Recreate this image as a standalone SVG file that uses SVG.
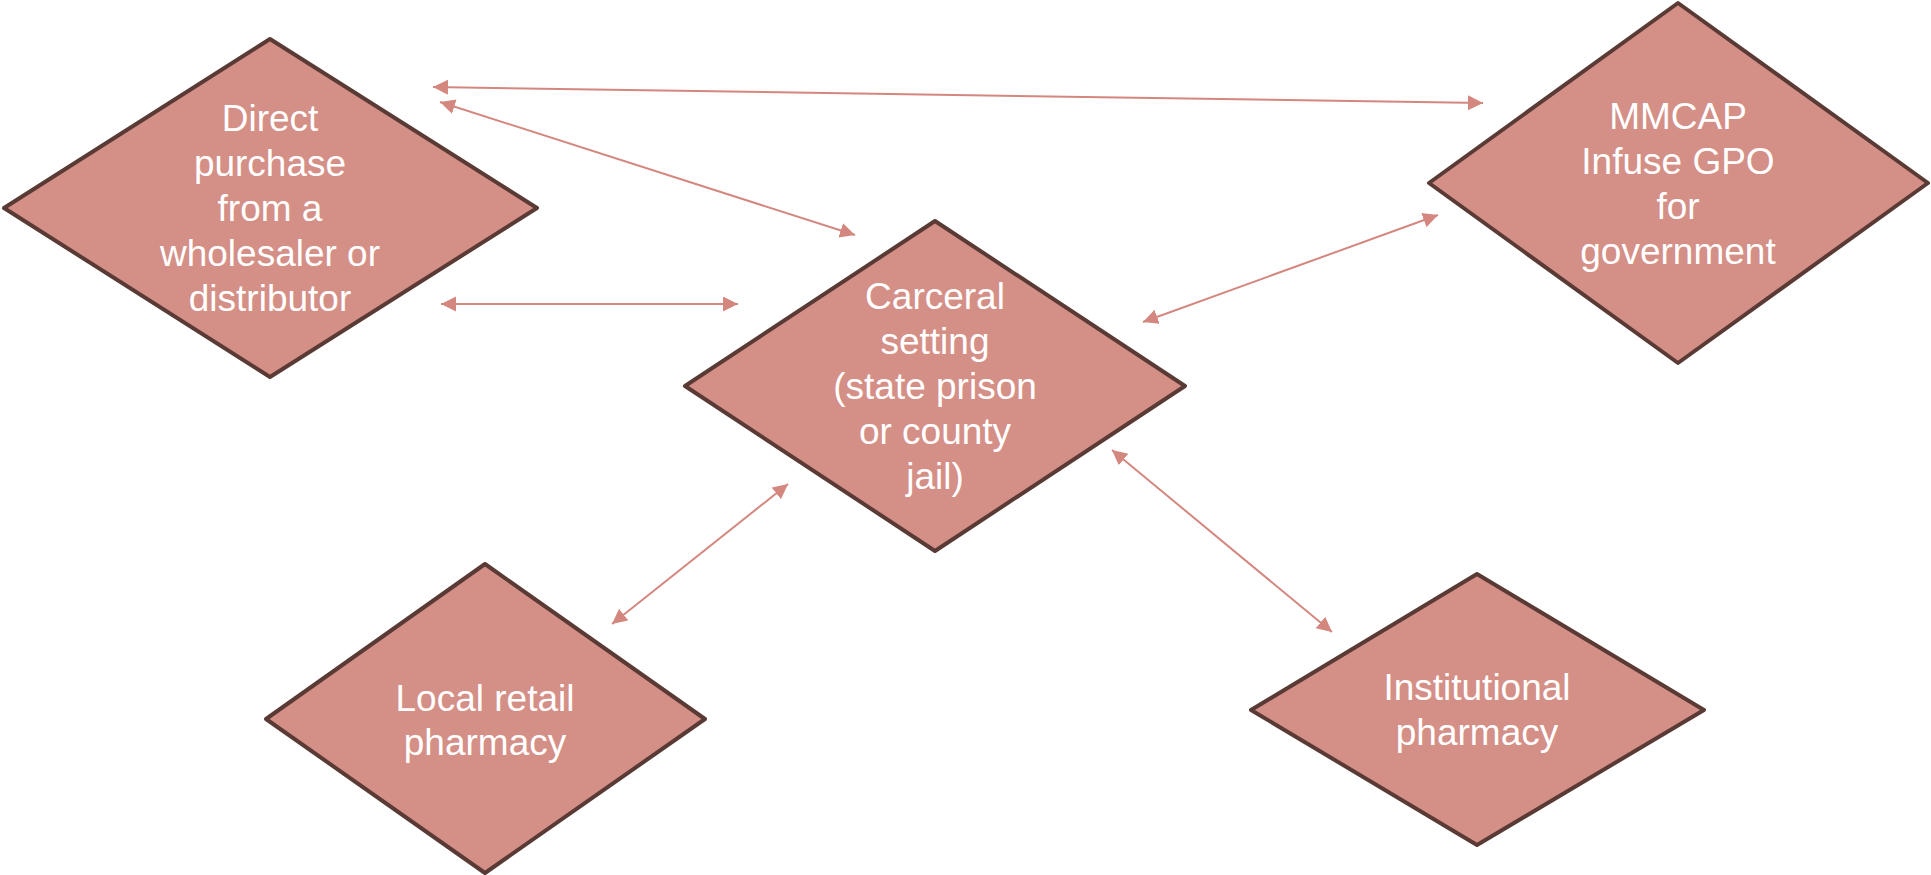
<svg xmlns="http://www.w3.org/2000/svg" width="1931" height="875" viewBox="0 0 1931 875">
<style>
.node{fill:#D48F87;stroke:#5A3A35;stroke-width:4;stroke-linejoin:round}
.lbl{fill:#FFFFFF;font-family:"Liberation Sans",Arial,sans-serif;font-size:37px;text-anchor:middle}
.conn{stroke:#D3877F;stroke-width:2;fill:none;marker-start:url(#ah);marker-end:url(#ah)}
</style>
<defs>
<marker id="ah" markerUnits="userSpaceOnUse" markerWidth="16" markerHeight="16" refX="15" refY="7.5" orient="auto-start-reverse" viewBox="0 0 16 16">
<path d="M0,0 L15,7.5 L0,15 z" fill="#D3877F"/>
</marker>
</defs>
<rect width="1931" height="875" fill="#FFFFFF"/>
<g id="connectors">
<line class="conn" x1="433" y1="87" x2="1483" y2="103"/>
<line class="conn" x1="440" y1="102" x2="855" y2="235"/>
<line class="conn" x1="441" y1="304" x2="738" y2="304"/>
<line class="conn" x1="1143" y1="322" x2="1438" y2="215"/>
<line class="conn" x1="612" y1="624" x2="788" y2="484"/>
<line class="conn" x1="1112" y1="450" x2="1332" y2="632"/>
</g>
<g id="node-direct">
<polygon class="node" points="270,39 537,208 270,377 4,208"/>
<text class="lbl" x="270" y="131">Direct</text>
<text class="lbl" x="270" y="176">purchase</text>
<text class="lbl" x="270" y="221">from a</text>
<text class="lbl" x="270" y="266">wholesaler or</text>
<text class="lbl" x="270" y="311">distributor</text>
</g>
<g id="node-carceral">
<polygon class="node" points="935,221 1185,386 935,551 685,386"/>
<text class="lbl" x="935" y="309">Carceral</text>
<text class="lbl" x="935" y="354">setting</text>
<text class="lbl" x="935" y="399">(state prison</text>
<text class="lbl" x="935" y="444">or county</text>
<text class="lbl" x="935" y="489">jail)</text>
</g>
<g id="node-mmcap">
<polygon class="node" points="1678,3 1928,183 1678,363 1429,183"/>
<text class="lbl" x="1678" y="129">MMCAP</text>
<text class="lbl" x="1678" y="174">Infuse GPO</text>
<text class="lbl" x="1678" y="219">for</text>
<text class="lbl" x="1678" y="264">government</text>
</g>
<g id="node-local">
<polygon class="node" points="485,564 705,719 485,873 266,719"/>
<text class="lbl" x="485" y="711">Local retail</text>
<text class="lbl" x="485" y="755">pharmacy</text>
</g>
<g id="node-institutional">
<polygon class="node" points="1477,574 1704,710 1477,845 1251,710"/>
<text class="lbl" x="1477" y="700">Institutional</text>
<text class="lbl" x="1477" y="745">pharmacy</text>
</g>
</svg>
